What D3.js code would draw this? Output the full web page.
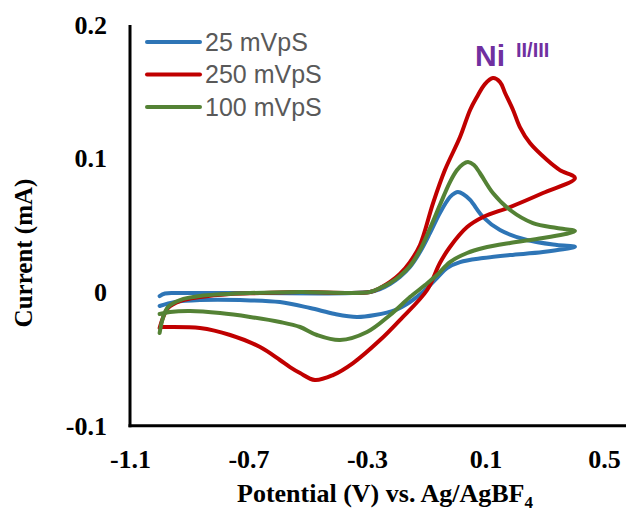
<!DOCTYPE html>
<html>
<head>
<meta charset="utf-8">
<script src="https://cdn.jsdelivr.net/npm/d3@7"></script>
<style>
  body { margin: 0; background: #fff; }
  svg { display: block; }
</style>
</head>
<body>
<svg id="chart"></svg>
<script>
// cyclic voltammograms, values (forward scan then return scan)

const xTicks = [-1.1, -0.7, -0.3, 0.1, 0.5]
const xTickLabels = ["-1.1", "-0.7", "-0.3", "0.1", "0.5"]
const yTicks = [-0.1, 0, 0.1, 0.2]
const yTickLabels = ["-0.1", "0", "0.1", "0.2"]

const seriesNames = ["25 mVpS", "250 mVpS", "100 mVpS"]
const seriesColors = ["#2E75B6", "#C00000", "#548235"]

// 25 mV/s
const e25 = [-1.0, -0.982, -0.931, -0.695, -0.29, -0.256, -0.222, -0.189, -0.155, -0.121, -0.087, -0.054, -0.020, -0.003, 0.007, 0.024, 0.048, 0.092, 0.149, 0.240, 0.341, 0.402,
             0.294, 0.183, 0.092, 0.014, -0.030, -0.064, -0.104, -0.155, -0.205, -0.273, -0.334, -0.408, -0.492, -0.594, -0.729, -0.864, -0.948, -1.0]
const i25 = [-0.003, -0.001, -0.0007, -0.0007, 0.0001, 0.0023, 0.0061, 0.0113, 0.0188, 0.030, 0.0443, 0.0592, 0.0712, 0.0742, 0.0749, 0.0735, 0.069, 0.0562, 0.0465, 0.039, 0.0353, 0.0340,
             0.030, 0.0278, 0.0255, 0.0225, 0.018, 0.0106, 0.0016, -0.0074, -0.0134, -0.0171, -0.0186, -0.0164, -0.0119, -0.0074, -0.0059, -0.0059, -0.0074, -0.0104]

// 250 mV/s
const e250 = [-1.0, -0.989, -0.972, -0.931, -0.864, -0.762, -0.661, -0.526, -0.29, -0.256, -0.222, -0.189, -0.155, -0.121, -0.077, -0.037, 0.014, 0.048, 0.071, 0.098, 0.125, 0.149, 0.166, 0.193, 0.216, 0.250, 0.308, 0.351, 0.402,
              0.294, 0.183, 0.092, 0.038, -0.020, -0.054, -0.097, -0.189, -0.256, -0.347, -0.415, -0.476, -0.526, -0.560, -0.594, -0.661, -0.762, -0.864, -0.975, -0.997]
const i250 = [-0.0269, -0.0194, -0.0119, -0.0067, -0.0037, -0.0014, -0.0007, 0.0001, 0.0001, 0.0031, 0.0076, 0.0136, 0.0225, 0.0353, 0.0667, 0.0914, 0.1161, 0.1364, 0.1461, 0.1558, 0.1603, 0.1573, 0.1491, 0.1364, 0.1236, 0.1116, 0.0989, 0.0914, 0.0854,
              0.0742, 0.0637, 0.0562, 0.0487, 0.0338, 0.0218, 0.0016, -0.0209, -0.0359, -0.0531, -0.0621, -0.0658, -0.0606, -0.0561, -0.0508, -0.0411, -0.0321, -0.0269, -0.0261, -0.0261]

// 100 mV/s
const e100 = [-1.0, -0.989, -0.972, -0.931, -0.864, -0.695, -0.526, -0.29, -0.256, -0.222, -0.189, -0.155, -0.121, -0.087, -0.054, -0.020, 0.004, 0.024, 0.041, 0.061, 0.081, 0.125, 0.183, 0.260, 0.341, 0.402,
              0.294, 0.183, 0.092, 0.038, -0.020, -0.064, -0.104, -0.155, -0.222, -0.300, -0.391, -0.469, -0.526, -0.594, -0.695, -0.796, -0.897, -0.965, -1.0]
const i100 = [-0.0306, -0.0194, -0.0112, -0.0059, -0.0029, -0.0007, 0.0001, 0.0001, 0.0031, 0.0068, 0.0121, 0.0195, 0.0315, 0.0480, 0.0652, 0.0824, 0.0914, 0.0959, 0.0974, 0.0952, 0.0892, 0.0742, 0.0615, 0.0517, 0.0480, 0.0457,
              0.0405, 0.0368, 0.0330, 0.0293, 0.0225, 0.0128, 0.0053, -0.0037, -0.0171, -0.0299, -0.0359, -0.0321, -0.0261, -0.0224, -0.0186, -0.0157, -0.0142, -0.0149, -0.0164]

const width = 626
const height = 519
const margin = {top: 25, right: 22, bottom: 93.3, left: 130}

const series = [
  {name: seriesNames[0], color: seriesColors[0], values: e25.map((e, k) => [e, i25[k]])},
  {name: seriesNames[1], color: seriesColors[1], values: e250.map((e, k) => [e, i250[k]])},
  {name: seriesNames[2], color: seriesColors[2], values: e100.map((e, k) => [e, i100[k]])}
]

const x = d3.scaleLinear()
  .domain([-1.1, 0.5])
  .range([margin.left, width - margin.right])

const y = d3.scaleLinear()
  .domain([-0.1, 0.2])
  .range([height - margin.bottom, margin.top])

const svg = d3.select("#chart")
  .attr("width", width)
  .attr("height", height)

const serif = "'Liberation Serif', 'Times New Roman', serif"

// axis tick labels
svg.append("g")
  .attr("transform", `translate(0,${y(-0.1)})`)
  .call(d3.axisBottom(x).tickValues(xTicks).tickFormat((d, i) => xTickLabels[i]).tickSize(0).tickPadding(24))
  .call(g => g.select(".domain").remove())
  .call(g => g.selectAll("text")
    .attr("font-family", serif).attr("font-weight", "bold").attr("font-size", 26).attr("fill", "#000"))

svg.append("g")
  .attr("transform", `translate(${x(-1.1)},0)`)
  .call(d3.axisLeft(y).tickValues(yTicks).tickFormat((d, i) => yTickLabels[i]).tickSize(0).tickPadding(23))
  .call(g => g.select(".domain").remove())
  .call(g => g.selectAll("text")
    .attr("font-family", serif).attr("font-weight", "bold").attr("font-size", 26).attr("fill", "#000"))

// axis lines
svg.append("line")
  .attr("x1", x(-1.1)).attr("x2", x(-1.1))
  .attr("y1", y(0.2)).attr("y2", y(-0.1) + 1.5)
  .attr("stroke", "#000").attr("stroke-width", 3)

svg.append("line")
  .attr("x1", x(-1.1) - 1.5).attr("x2", width)
  .attr("y1", y(-0.1)).attr("y2", y(-0.1))
  .attr("stroke", "#000").attr("stroke-width", 3)

// curves
const line = d3.line()
  .x(d => x(d[0]))
  .y(d => y(d[1]))
  .curve(d3.curveCatmullRom.alpha(0.5))

svg.append("g")
  .attr("fill", "none")
  .attr("stroke-width", 4)
  .attr("stroke-linejoin", "round")
  .attr("stroke-linecap", "round")
  .selectAll("path")
  .data(series)
  .join("path")
    .attr("stroke", d => d.color)
    .attr("d", d => line(d.values))

// legend
const legend = svg.append("g")
  .selectAll("g")
  .data(series)
  .join("g")
    .attr("transform", (d, i) => `translate(147,${42 + i * 32.5})`)

legend.append("line")
  .attr("x1", 0).attr("x2", 53)
  .attr("stroke", d => d.color)
  .attr("stroke-width", 4)
  .attr("stroke-linecap", "round")

legend.append("text")
  .attr("x", 58)
  .attr("dy", "0.35em")
  .attr("font-family", "'Liberation Sans', Arial, sans-serif")
  .attr("font-size", 25)
  .attr("fill", "#595959")
  .text(d => d.name)

// Ni II/III annotation
const note = svg.append("text")
  .attr("x", 475)
  .attr("y", 66)
  .attr("font-family", "'Liberation Sans', Arial, sans-serif")
  .attr("font-weight", "bold")
  .attr("fill", "#7030A0")
note.append("tspan").attr("font-size", 30).text("Ni")
note.append("tspan").attr("font-size", 20).attr("dx", 11).attr("dy", -9).text("II/III")

// axis titles
svg.append("text")
  .attr("transform", "translate(32,253) rotate(-90)")
  .attr("text-anchor", "middle")
  .attr("font-family", serif)
  .attr("font-weight", "bold")
  .attr("font-size", 25)
  .text("Current (mA)")

const xTitle = svg.append("text")
  .attr("x", 385)
  .attr("y", 502)
  .attr("text-anchor", "middle")
  .attr("font-family", serif)
  .attr("font-weight", "bold")
  .attr("font-size", 26)
xTitle.append("tspan").text("Potential (V) vs. Ag/AgBF")
xTitle.append("tspan").attr("font-size", 17).attr("dy", 6).text("4")
</script>
</body>
</html>
